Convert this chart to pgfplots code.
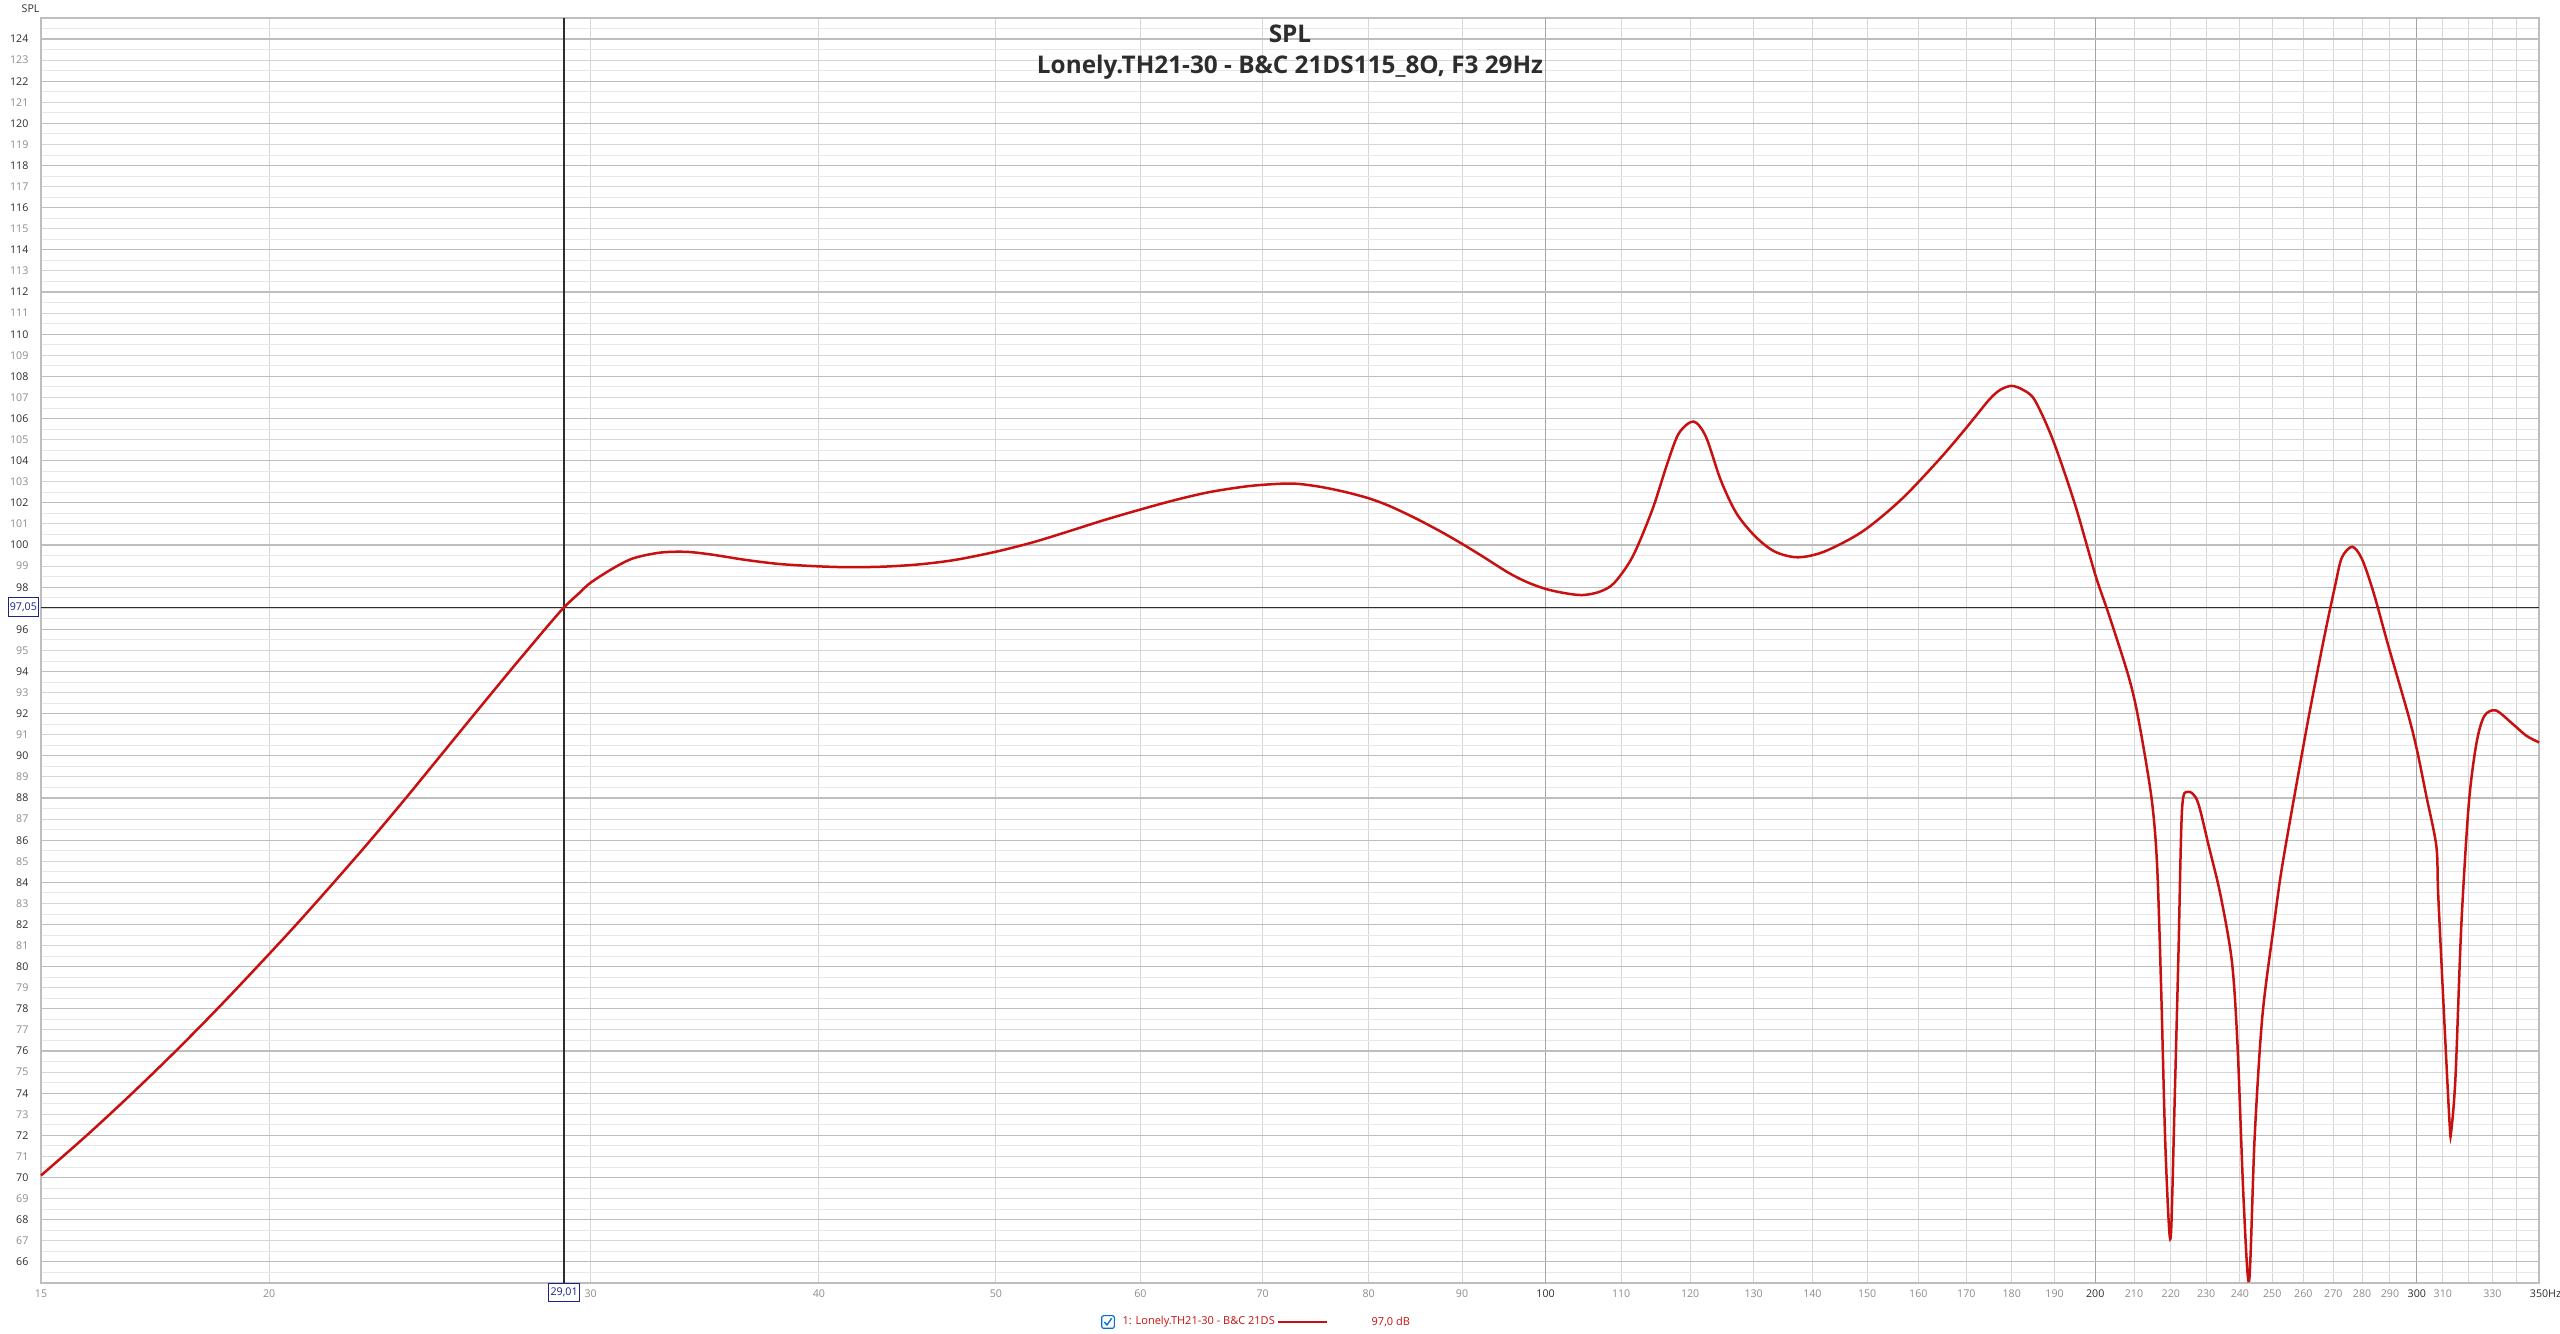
\documentclass[border=0pt]{standalone}
\usepackage{fontspec}
\setmainfont{Open Sans}
\usepackage{pgfplots}
\pgfplotsset{compat=1.18}
\definecolor{curve}{RGB}{200,16,16}
\definecolor{gridminor}{RGB}{232,232,232}
\definecolor{gridlight}{RGB}{214,214,214}
\definecolor{gridmid}{RGB}{190,190,190}
\definecolor{griddark}{RGB}{165,165,165}
\definecolor{lblgray}{RGB}{140,140,140}
\definecolor{lbldark}{RGB}{45,45,45}
\definecolor{cursorblue}{RGB}{25,35,140}
\definecolor{checkblue}{RGB}{0,110,210}
\newcommand{\tickfont}{\fontsize{3.2}{3.8}\selectfont}
\newcommand{\legfont}{\fontsize{3.3}{3.9}\selectfont}
\newcommand{\titlefont}{\fontsize{7.3}{8.7}\selectfont\bfseries}
\begin{document}
\begin{tikzpicture}
\path[use as bounding box] (-12.3pt,-15.3pt) rectangle (755.7pt,384.9pt);
\begin{axis}[
  at={(0pt,0pt)}, anchor=south west,
  width=749.4pt, height=379.5pt, scale only axis,
  xmode=log, xmin=15, xmax=350, ymin=65, ymax=125,
  clip=false,
  axis line style={draw=gridmid, line width=0.35pt},
  major tick length=0pt, minor tick length=0pt,
  /pgf/number format/assume math mode=true,
  tick label style={font=\tickfont, inner sep=0pt},
  xtick={15,20,30,40,50,60,70,80,90,110,120,130,140,150,160,170,180,190,210,220,230,240,250,260,270,280,290,310,320,330,340,350},
  xticklabels={15,20,30,40,50,60,70,80,90,110,120,130,140,150,160,170,180,190,210,220,230,240,250,260,270,280,290,310,,330,,{\textcolor{lbldark}{350}\rlap{\textcolor{lbldark}{Hz}}}},
  xticklabel style={text=lblgray, anchor=north, yshift=-1.9pt},
  ytick={67,69,...,123},
  yticklabel={\pgfmathparse{abs(\tick-97)<0.01 ? 1 : 0}\ifdim\pgfmathresult pt>0.5pt\else\pgfmathprintnumber{\tick}\fi},
  yticklabel style={text=lblgray, anchor=east, xshift=-3.6pt},
  minor ytick={65.5,66.5,...,124.5},
  xmajorgrids=true, ymajorgrids=true, yminorgrids=true,
  major grid style={draw=gridlight, line width=0.3pt},
  minor grid style={draw=gridminor, line width=0.3pt},
  extra x ticks={100,200,300},
  extra x tick labels={100,200,300},
  extra x tick style={xmajorgrids=true, major grid style={draw=griddark, line width=0.35pt}, xticklabel style={text=lbldark}},
  extra y ticks={66,68,...,124},
  extra y tick style={ymajorgrids=true, major grid style={draw=gridmid, line width=0.35pt}, yticklabel style={text=lbldark}},
]
\addplot[lbldark, line width=0.4pt] coordinates {(29.01,65) (29.01,125)};
\addplot[lbldark, line width=0.4pt] coordinates {(15,97.05) (350,97.05)};
\addplot[curve, line width=0.75pt, smooth, tension=0.5] coordinates {
(15.0,70.1) (15.90,72.02) (16.82,73.98) (17.76,75.96) (18.73,77.99) (19.69,79.97)
(20.70,82.01) (21.73,84.06) (22.71,85.97) (23.71,87.90) (24.71,89.80) (25.85,91.88)
(27.09,94.02) (27.78,95.15) (28.37,96.09) (29.01,97.05) (29.59,97.75) (30.0,98.22)
(30.86,98.9) (31.65,99.37) (32.73,99.64) (33.8,99.68) (34.87,99.56) (36.45,99.3)
(38.09,99.1) (40.0,98.99) (41.63,98.95) (43.50,98.98) (45.47,99.09) (47.53,99.3)
(50.03,99.69) (52.39,100.13) (54.76,100.64) (57.24,101.17) (60.02,101.69) (62.52,102.11)
(65.35,102.5) (68.83,102.8) (72.45,102.92) (74.94,102.79) (77.5,102.54) (80,102.22)
(82.1,101.86) (84.93,101.26) (87.83,100.59) (90,100.06) (92.3,99.48) (95.46,98.68)
(97.7,98.24) (100,97.92) (102.6,97.71) (104.8,97.63) (107.0,97.78) (109.0,98.19) (111.6,99.45)
(114.4,101.67) (116.6,103.88) (118.3,105.3) (120.5,105.86) (122.4,105.14) (124.7,103.09)
(127.2,101.51) (130.3,100.4) (133.5,99.69) (137.4,99.42) (142.1,99.69) (149.1,100.64)
(156.5,102.14) (164.2,104.04) (169.9,105.54) (174.9,106.88) (177.4,107.36) (180,107.55)
(182.6,107.36) (185.3,106.88)
(189.6,105.0) (195.0,101.9) (200,98.6) (203.6,96.62) (208.6,93.75) (211.2,91.73)
(214.7,87.99) (216.2,84.84) (217.3,79.09) (218.4,71.9) (219.5,67.6) (220.1,67.6)
(221.0,73.3) (222.1,80.5) (223.1,87.42) (224.7,88.29) (227.5,87.85) (230.8,85.7)
(234.2,83.4) (237.6,80.24) (239.3,76.22) (241.1,69.03) (242.8,65.1) (244.5,71.9)
(246.9,77.65) (250.5,81.96) (252.9,84.55) (256.6,87.71) (261.6,91.73) (266.7,95.47)
(270.6,98.06) (272.9,99.4) (276.5,99.92) (279.9,99.35) (284.0,97.77) (289.5,95.18)
(296.6,92.02) (300,90.3) (303.8,87.99) (307.5,85.7) (308.2,83.4) (310.5,77.65)
(312.7,72.48) (313.3,72.2) (315.0,74.8) (317.3,81.96) (320.3,87.71) (323.4,90.58)
(326.6,91.88) (331.3,92.16) (337.8,91.59) (344.4,90.96) (350,90.64)
};
\node[draw=cursorblue, fill=white, text=cursorblue, font=\tickfont, inner xsep=0.5pt, inner ysep=1.3pt, line width=0.3pt, anchor=north] at (axis cs:29.01,65) {29,01};
\node[draw=cursorblue, fill=white, text=cursorblue, font=\tickfont, inner xsep=0.5pt, inner ysep=1.5pt, line width=0.3pt, anchor=east, xshift=-0.6pt] at (axis cs:15,97.05) {97,05};
\end{axis}
% titles
\node[font=\tickfont, text=lbldark, anchor=base west, inner sep=0pt] at (-6pt,381.1pt) {SPL};
\node[font=\titlefont, text=lbldark, anchor=base, inner sep=0pt] at (374.7pt,372.1pt) {SPL};
\node[font=\titlefont, text=lbldark, anchor=base, inner sep=0pt] at (374.7pt,362.9pt) {Lonely.TH21-30 - B\&C 21DS115\_8O, F3 29Hz};
% legend
\draw[checkblue, rounded corners=0.6pt, line width=0.35pt] (318.2pt,-13.6pt) rectangle (322pt,-9.8pt);
\draw[checkblue, line width=0.4pt] (319pt,-11.7pt) -- (319.8pt,-12.6pt) -- (321.2pt,-10.6pt);
\node[font=\legfont, text=curve, anchor=west, inner sep=0pt] at (324.3pt,-11.7pt) {1: Lonely.TH21-30 - B\&C 21DS};
\draw[curve, line width=0.75pt] (371.1pt,-11.7pt) -- (385.8pt,-11.7pt);
\node[font=\legfont, text=curve, anchor=west, inner sep=0pt] at (399pt,-11.7pt) {97,0 dB};
\end{tikzpicture}
\end{document}
